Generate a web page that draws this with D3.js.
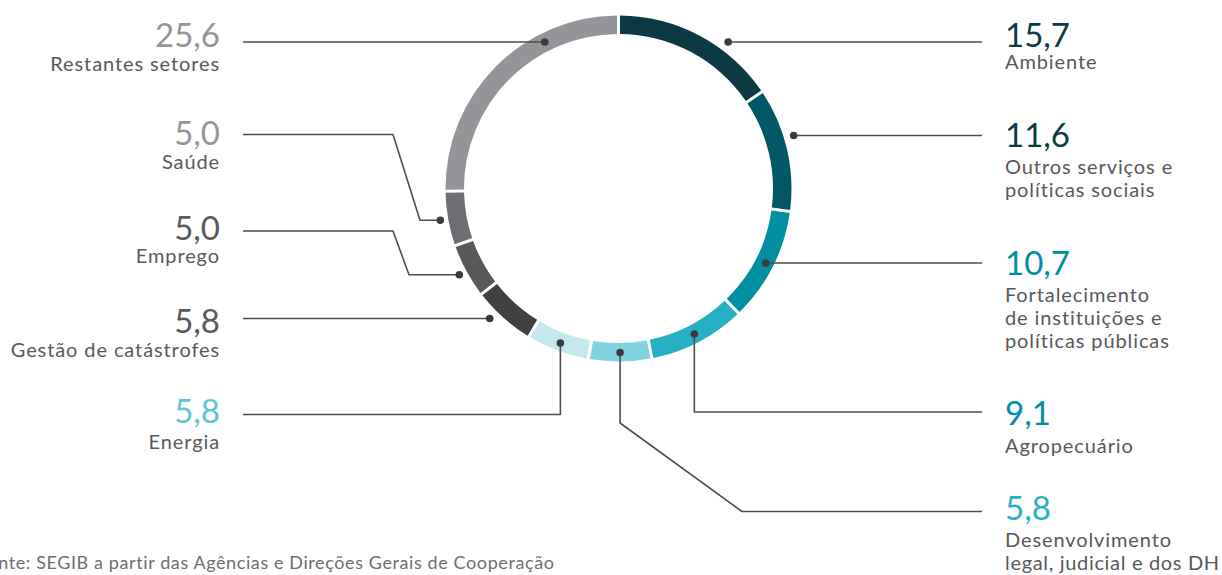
<!DOCTYPE html>
<html>
<head>
<meta charset="utf-8">
<script src="https://cdn.jsdelivr.net/npm/d3@7"></script>
<style>
  body { margin: 0; background: #fff; }
  svg { display: block; font-family: Lato, "Open Sans", sans-serif; }
</style>
</head>
<body>
<svg width="1222" height="575"></svg>
<script>
// sectors, clockwise from the top
const categories = ["Ambiente", "Outros serviços e políticas sociais", "Fortalecimento de instituições e políticas públicas",
    "Agropecuário", "Desenvolvimento legal, judicial e dos DH", "Energia", "Gestão de catástrofes",
    "Emprego", "Saúde", "Restantes setores"];
const values = [15.7, 11.6, 10.7, 9.1, 5.8, 5.8, 5.8, 5.0, 5.0, 25.6];
const labelLines = [
    ["Ambiente"],
    ["Outros serviços e", "políticas sociais"],
    ["Fortalecimento", "de instituições e", "políticas públicas"],
    ["Agropecuário"],
    ["Desenvolvimento", "legal, judicial e dos DH"],
    ["Energia"],
    ["Gestão de catástrofes"],
    ["Emprego"],
    ["Saúde"],
    ["Restantes setores"]
];
const segmentColors = ["#0b3a44", "#005866", "#008fa2", "#27afc4", "#80d3e3", "#c5e8ef",
    "#404040", "#58595b", "#6d6e71", "#939598"];
const numberColors = ["#0b3d47", "#0b3d47", "#008fa2", "#008fa2", "#2aafc4", "#5ec4d8",
    "#58595b", "#58595b", "#939598", "#939598"];
const sourceText = "Fonte: SEGIB a partir das Agências e Direções Gerais de Cooperação";

// layout of the callouts
const cx = 618.5, cy = 188.5, outerR = 173, innerR = 154.5;
const rightX = 1005, leftX = 220, rightEnd = 982, leftEnd = 243;
// leader kind: h = horizontal at lineY, m = horizontal from mid-angle dot, v = down then across,
// vd = down, diagonal, across; dl = across, diagonal up, across
const leaderKind = ["h", "h", "m", "v", "vd", "v", "h", "dl", "dl", "h"];
const dotR = [183, 183, 165, 164, 164, 165, 183, 181, 181, 164];
const lineY = [42, 135.5, 264, 412, 511.5, 414.5, 318.5, 231, 134.5, 42];
const kneeX = [0, 0, 0, 0, 742, 0, 0, 409, 420, 0];
const numberY = [46.5, 147, 275, 425, 520, 422.5, 332.5, 239.5, 145, 46.5];
const labelY = [69, 173.5, 301.5, 453, 547, 449, 356.5, 263, 169, 70.5];
const lineGap = 23;

const svg = d3.select("svg");
const fmt = d3.formatLocale({decimal: ",", thousands: ".", grouping: [3], currency: ["", "€"]}).format(".1f");

const pie = d3.pie().sort(null).value(d => d).padAngle(0.013);
const arcs = pie(values);
const arc = d3.arc().innerRadius(innerR).outerRadius(outerR);

const g = svg.append("g").attr("transform", `translate(${cx},${cy})`);
g.selectAll("path")
    .data(arcs)
    .join("path")
    .attr("d", arc)
    .attr("fill", (d, i) => segmentColors[i]);

function polar(a, r) {
    return [cx + r * Math.sin(a), cy - r * Math.cos(a)];
}

const leaders = arcs.map((a, i) => {
    const right = i < 5;
    const endX = right ? rightEnd : leftEnd;
    const mid = (a.startAngle + a.endAngle) / 2;
    const kind = leaderKind[i];
    let dot, pts;
    if (kind === "h") {
        const dy = lineY[i] - cy;
        const dx = Math.sqrt(dotR[i] * dotR[i] - dy * dy);
        dot = [cx + (right ? dx : -dx), lineY[i]];
        pts = [dot, [endX, lineY[i]]];
    } else if (kind === "m") {
        dot = polar(mid, dotR[i]);
        pts = [dot, [endX, dot[1]]];
    } else if (kind === "v") {
        dot = polar(mid, dotR[i]);
        pts = [dot, [dot[0], lineY[i]], [endX, lineY[i]]];
    } else if (kind === "vd") {
        dot = polar(mid, dotR[i]);
        pts = [dot, [dot[0], 423], [kneeX[i], lineY[i]], [endX, lineY[i]]];
    } else {
        dot = polar(mid, dotR[i]);
        pts = [dot, [kneeX[i], dot[1]], [393, lineY[i]], [endX, lineY[i]]];
    }
    return {dot, pts};
});

const line = d3.line();
svg.append("g")
    .selectAll("path")
    .data(leaders)
    .join("path")
    .attr("d", d => line(d.pts))
    .attr("fill", "none")
    .attr("stroke", "#4d4d4f")
    .attr("stroke-width", 1.6)
    .attr("stroke-linejoin", "round");

svg.append("g")
    .selectAll("circle")
    .data(leaders)
    .join("circle")
    .attr("cx", d => d.dot[0])
    .attr("cy", d => d.dot[1])
    .attr("r", 3.8)
    .attr("fill", "#3a3b3d");

const labels = svg.append("g")
    .selectAll("g")
    .data(values)
    .join("g")
    .attr("text-anchor", (d, i) => i < 5 ? "start" : "end")
    .attr("transform", (d, i) => `translate(${i < 5 ? rightX : leftX},0)`);

labels.append("text")
    .attr("y", (d, i) => numberY[i])
    .attr("font-size", 33)
    .attr("fill", (d, i) => numberColors[i])
    .text(d => fmt(d));

const maxRight = 1220 - rightX;
labels.each(function(d, i) {
    d3.select(this).selectAll("text.lbl")
        .data(labelLines[i])
        .join("text")
        .attr("class", "lbl")
        .attr("y", (t, j) => labelY[i] + j * lineGap)
        .attr("font-size", 20)
        .attr("letter-spacing", 0.9)
        .attr("fill", "#58595b")
        .text(t => t)
        .each(function() {
            // squeeze a line that would run past the right edge
            if (i < 5 && this.getComputedTextLength() > maxRight) {
                d3.select(this).attr("textLength", maxRight).attr("lengthAdjust", "spacing");
            }
        });
});

svg.append("text")
    .attr("x", -22.6)
    .attr("y", 569)
    .attr("font-size", 18)
    .attr("letter-spacing", 0.6)
    .attr("fill", "#6d6e71")
    .text(sourceText);
</script>
</body>
</html>
